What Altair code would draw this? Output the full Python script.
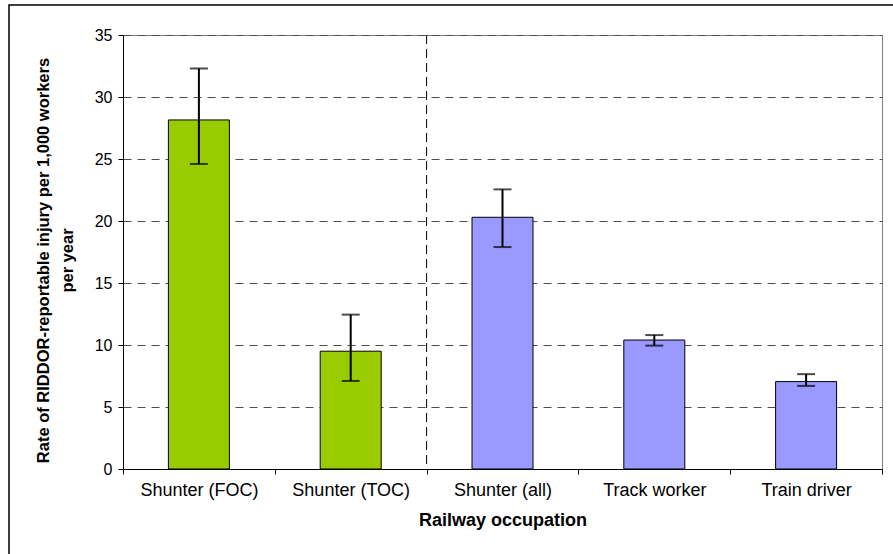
import altair as alt
import pandas as pd

occupations = ["Shunter (FOC)", "Shunter (TOC)", "Shunter (all)", "Track worker", "Train driver"]
rates = [28.15, 9.5, 20.3, 10.4, 7.05]
lower = [24.6, 7.1, 17.9, 9.95, 6.7]
upper = [32.3, 12.45, 22.55, 10.8, 7.65]
groups = ["Operator", "Operator", "Overall", "Overall", "Overall"]
y_ticks = [0, 5, 10, 15, 20, 25, 30, 35]
separator_at = ["Shunter (all)"]

df = pd.DataFrame({"occ": occupations, "rate": rates, "lo": lower, "hi": upper, "grp": groups})
sep = pd.DataFrame({"occ": separator_at})

FONT = "Liberation Sans"
W, H = 759, 434

xscale = alt.Scale(domain=occupations, paddingInner=0, paddingOuter=0)
yscale = alt.Scale(domain=[0, 35], nice=False)

x_axis = alt.Axis(
    title="Railway occupation", labelAngle=0, tickBand="extent", tickSize=5,
    tickColor="black", domainColor="black", labelFontSize=18, labelColor="black",
    labelFont=FONT, labelPadding=7, titleFont=FONT, titleFontSize=18,
    titleFontWeight="bold", titleColor="black", titlePadding=12, grid=False,
)
y_axis = alt.Axis(
    title=["Rate of RIDDOR-reportable injury per 1,000 workers", "per year"],
    values=y_ticks, tickSize=5, tickColor="black", domainColor="black",
    labelFontSize=16, labelColor="black", labelFont=FONT, labelPadding=6,
    titleFont=FONT, titleFontSize=16.5, titleFontWeight="bold", titleColor="black",
    titleLineHeight=24, titleX=-80, titleY=225, titleBaseline="middle",
    grid=True, gridColor="#4d4d4d", gridDash=[8, 6], gridWidth=1,
)

base = alt.Chart(df)

bars = base.mark_bar(size=61, stroke="black", strokeWidth=1).encode(
    x=alt.X("occ:N", scale=xscale, axis=x_axis, sort=occupations),
    y=alt.Y("rate:Q", scale=yscale, axis=y_axis),
    color=alt.Color("grp:N", scale=alt.Scale(domain=["Operator", "Overall"],
                                             range=["#99CC00", "#9999FF"]), legend=None),
)

err = base.mark_rule(color="black", strokeWidth=2).encode(
    x=alt.X("occ:N", sort=occupations), y="lo:Q", y2="hi:Q"
)
cap_hi = base.mark_tick(color="black", size=18, thickness=2).encode(
    x=alt.X("occ:N", sort=occupations), y="hi:Q"
)
cap_lo = base.mark_tick(color="black", size=18, thickness=2).encode(
    x=alt.X("occ:N", sort=occupations), y="lo:Q"
)

separator = alt.Chart(sep).mark_rule(color="black", strokeDash=[9, 5], strokeWidth=1).encode(
    x=alt.X("occ:N", bandPosition=0, sort=occupations)
)

frame = alt.Chart(sep).mark_rect(fill=None, stroke="black", strokeWidth=1.5, clip=False).encode(
    x=alt.value(-114), x2=alt.value(790), y=alt.value(-30), y2=alt.value(540)
)

chart = alt.layer(bars, separator, err, cap_hi, cap_lo, frame).properties(
    width=W, height=H,
    autosize=alt.AutoSizeParams(type="none"),
    padding={"left": 123, "top": 35, "right": 11, "bottom": 85},
    background="white",
).configure_view(stroke="#808080", strokeWidth=1)

chart.save("out.html", embed_options={"renderer": "svg", "actions": False})
